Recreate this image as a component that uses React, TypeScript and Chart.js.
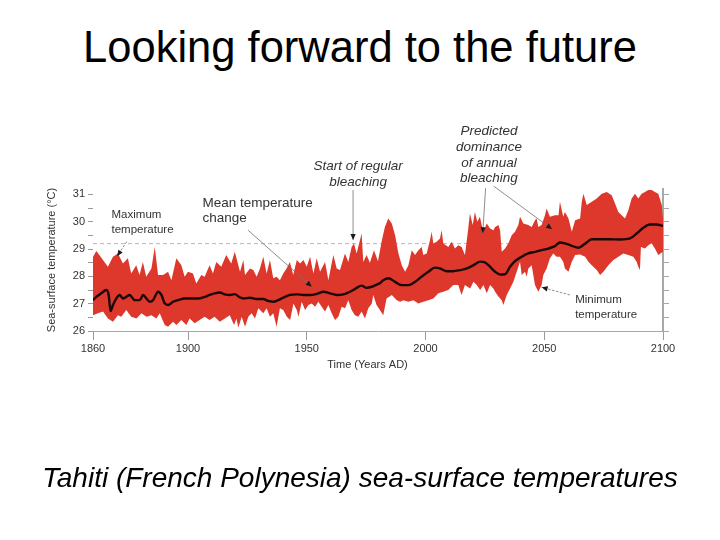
import React, { useEffect, useRef } from "react";
import { Chart, registerables } from "chart.js";

Chart.register(...registerables);

const FONT = '"Liberation Sans", Arial, Helvetica, sans-serif';

// ---------------- data ----------------
const maxYears = [
  1860.0, 1861.4, 1864.2, 1866.3, 1868.4, 1870.5, 1872.6, 1874.7, 1876.1, 1878.2,
  1879.6, 1881.0, 1882.4, 1884.6, 1886.0, 1887.4, 1889.5, 1891.6, 1893.0, 1895.1,
  1897.2, 1898.6, 1900.0, 1902.1, 1903.5, 1905.6, 1907.0, 1909.1, 1910.5, 1911.9,
  1914.0, 1916.1, 1918.2, 1919.7, 1921.9, 1923.3, 1924.0, 1926.1, 1927.5, 1928.9,
  1930.3, 1931.7, 1933.1, 1934.5, 1935.9, 1937.3, 1938.7, 1940.1, 1941.5, 1942.9,
  1944.3, 1945.8, 1947.2, 1948.6, 1950.0, 1951.4, 1952.8, 1954.2, 1955.6, 1957.7,
  1959.1, 1961.2, 1962.6, 1964.0, 1966.1, 1967.5, 1968.9, 1969.9, 1971.0, 1973.1,
  1973.8, 1975.2, 1976.6, 1978.3, 1980.0, 1981.5, 1982.9, 1984.3, 1985.8, 1987.2,
  1988.6, 1990.0, 1991.4, 1992.8, 1994.2, 1995.6, 1997.0, 1998.4, 1999.1, 2000.5,
  2001.9, 2002.6, 2003.3, 2004.7, 2006.1, 2006.8, 2007.5, 2009.6, 2011.0, 2012.4,
  2013.8, 2015.2, 2016.6, 2018.0, 2018.7, 2019.9, 2020.8, 2021.8, 2022.9, 2024.3,
  2025.8, 2027.2, 2028.6, 2029.3, 2030.7, 2031.4, 2032.1, 2033.5, 2034.9, 2036.3,
  2037.7, 2039.1, 2039.8, 2041.2, 2043.3, 2044.7, 2046.1, 2046.8, 2047.5, 2048.9,
  2050.3, 2051.0, 2052.4, 2054.5, 2056.0, 2056.6, 2058.0, 2058.7, 2060.2, 2061.6,
  2063.0, 2065.1, 2065.8, 2066.5, 2067.9, 2070.0, 2072.1, 2074.2, 2076.3, 2078.4,
  2079.8, 2081.2, 2082.6, 2084.0, 2085.4, 2086.8, 2088.2, 2089.6, 2091.0, 2092.4,
  2093.8, 2095.2, 2096.6, 2098.0, 2099.5, 2100.0,
];
const maxTemps = [
  28.72, 28.93, 28.60, 28.35, 28.72, 28.84, 28.47, 28.66, 28.11, 28.41,
  28.05, 28.53, 27.99, 28.29, 29.08, 28.05, 28.05, 28.17, 27.86, 28.66,
  28.41, 27.99, 28.17, 28.11, 27.74, 28.05, 27.99, 28.41, 28.11, 28.53,
  28.35, 28.78, 28.47, 28.90, 28.17, 28.60, 28.05, 28.29, 28.23, 27.99,
  28.29, 28.72, 28.11, 28.60, 27.93, 27.99, 27.86, 28.11, 28.29, 28.53,
  28.05, 28.60, 28.47, 28.60, 28.35, 28.72, 28.11, 28.66, 28.17, 28.53,
  27.86, 28.78, 28.29, 28.23, 28.84, 28.53, 29.08, 29.20, 28.84, 29.57,
  28.53, 28.78, 28.50, 28.96, 28.55, 29.27, 29.81, 30.12, 29.94, 29.51,
  28.84, 28.41, 28.17, 28.41, 28.96, 28.78, 28.96, 29.08, 28.78, 28.84,
  29.33, 29.63, 29.20, 29.27, 29.39, 29.69, 29.20, 29.08, 29.27, 29.02,
  29.14, 29.08, 28.78, 29.75, 30.30, 29.88, 30.36, 30.00, 30.18, 29.63,
  29.94, 29.75, 29.69, 29.81, 29.88, 29.69, 28.90, 29.02, 29.21, 29.51,
  29.63, 29.88, 30.18, 29.94, 29.88, 29.81, 30.06, 30.12, 29.81, 29.88,
  30.24, 30.49, 30.18, 30.24, 30.24, 30.73, 30.18, 30.36, 30.12, 29.63,
  30.06, 30.12, 30.73, 31.03, 30.61, 30.73, 30.85, 31.03, 31.09, 30.97,
  30.67, 30.36, 30.24, 30.12, 30.42, 30.85, 31.03, 30.85, 31.03, 31.09,
  31.16, 31.16, 31.09, 31.03, 30.61, 30.10,
];

const minYears = [
  1860.0, 1862.1, 1864.2, 1866.3, 1868.4, 1870.5, 1871.9, 1874.0, 1876.1, 1878.3,
  1880.4, 1882.5, 1884.6, 1886.7, 1888.1, 1890.2, 1891.6, 1893.7, 1895.1, 1897.2,
  1899.3, 1900.7, 1902.8, 1904.9, 1907.0, 1909.1, 1911.2, 1913.4, 1915.5, 1917.6,
  1919.4, 1920.4, 1921.2, 1922.6, 1924.0, 1925.4, 1926.8, 1928.2, 1929.6, 1931.7,
  1933.1, 1934.5, 1935.9, 1937.3, 1938.7, 1940.1, 1941.6, 1943.0, 1944.4, 1945.8,
  1946.5, 1947.9, 1949.3, 1950.7, 1952.1, 1953.5, 1954.9, 1956.3, 1957.7, 1959.1,
  1960.5, 1961.9, 1963.3, 1964.7, 1966.1, 1967.5, 1968.9, 1970.3, 1971.7, 1973.1,
  1974.5, 1975.9, 1977.4, 1978.0, 1979.4, 1980.8, 1982.2, 1983.6, 1985.8, 1987.9,
  1989.3, 1990.7, 1992.8, 1994.9, 1997.0, 1999.1, 2001.2, 2003.3, 2005.4, 2007.5,
  2009.6, 2011.7, 2013.8, 2015.2, 2016.6, 2018.8, 2020.2, 2021.6, 2023.0, 2024.4,
  2025.8, 2027.2, 2028.6, 2029.3, 2030.7, 2032.1, 2032.8, 2034.2, 2035.6, 2037.0,
  2038.4, 2039.8, 2040.5, 2041.9, 2042.6, 2043.3, 2044.7, 2046.1, 2047.5, 2048.9,
  2049.6, 2051.0, 2052.4, 2053.8, 2055.2, 2056.6, 2058.0, 2058.7, 2060.2, 2061.6,
  2063.0, 2065.1, 2067.2, 2068.6, 2070.0, 2072.1, 2073.5, 2074.9, 2077.0, 2079.1,
  2081.2, 2083.3, 2085.4, 2087.5, 2088.9, 2089.6, 2090.3, 2090.7, 2092.4, 2093.8,
  2095.2, 2096.6, 2098.0, 2100.0,
];
const minTemps = [
  26.58, 26.65, 26.71, 26.46, 26.34, 26.58, 26.52, 26.77, 26.52, 26.46,
  26.65, 26.52, 26.58, 26.46, 26.65, 26.22, 26.16, 26.34, 26.22, 26.40,
  26.22, 26.46, 26.28, 26.40, 26.52, 26.40, 26.52, 26.34, 26.46, 26.58,
  26.22, 26.46, 26.12, 26.52, 26.16, 26.52, 26.65, 26.46, 26.83, 26.65,
  26.83, 26.52, 26.65, 26.16, 26.83, 26.77, 26.52, 26.40, 27.01, 26.77,
  26.52, 27.07, 26.77, 26.95, 27.01, 26.89, 27.07, 26.89, 26.71, 26.95,
  26.65, 26.40, 26.52, 26.89, 26.83, 27.13, 26.77, 26.58, 26.52, 26.71,
  26.46, 26.83, 27.01, 27.32, 26.95, 26.77, 26.58, 27.19, 27.32, 27.13,
  27.07, 27.13, 27.07, 27.13, 27.01, 27.07, 27.13, 27.19, 27.38, 27.44,
  27.50, 27.68, 27.68, 27.32, 27.68, 27.56, 27.80, 27.68, 27.50, 27.68,
  27.38, 27.68, 27.56, 27.44, 27.26, 27.13, 26.95, 27.32, 27.56, 27.80,
  28.17, 28.54, 28.05, 28.17, 27.99, 28.29, 28.41, 27.68, 27.44, 27.68,
  28.05, 28.29, 28.66, 28.84, 28.72, 28.72, 28.54, 28.29, 28.17, 28.54,
  28.78, 28.80, 28.72, 28.54, 28.41, 28.23, 28.05, 28.17, 28.41, 28.60,
  28.72, 28.84, 28.78, 28.72, 28.54, 28.35, 28.23, 29.08, 29.02, 29.14,
  29.21, 29.02, 28.78, 28.90,
];

const meanYears = [
  1860.0, 1861.4, 1863.5, 1865.6, 1866.6, 1867.4, 1868.4, 1869.8, 1871.2, 1872.6,
  1874.0, 1875.4, 1877.6, 1879.7, 1881.1, 1882.5, 1883.9, 1885.3, 1887.4, 1888.8,
  1890.2, 1891.6, 1893.7, 1895.8, 1898.6, 1901.4, 1904.2, 1907.0, 1909.1, 1911.2,
  1913.4, 1915.5, 1917.6, 1919.7, 1921.5, 1923.3, 1926.1, 1928.9, 1931.7, 1933.8,
  1935.9, 1938.0, 1940.1, 1943.0, 1945.8, 1948.6, 1951.4, 1953.5, 1954.9, 1957.0,
  1959.8, 1962.6, 1965.4, 1967.5, 1969.6, 1971.0, 1973.1, 1975.2, 1977.4, 1979.5,
  1980.9, 1982.2, 1984.4, 1987.2, 1990.0, 1992.8, 1995.6, 1998.4, 2001.2, 2004.0,
  2006.1, 2008.9, 2011.7, 2014.5, 2017.4, 2020.2, 2023.0, 2025.1, 2027.2, 2029.3,
  2031.4, 2033.5, 2035.6, 2037.7, 2040.5, 2043.3, 2046.1, 2048.9, 2051.7, 2054.5,
  2056.6, 2058.7, 2061.6, 2064.4, 2067.2, 2070.0, 2073.5, 2077.7, 2081.9, 2086.1,
  2088.9, 2091.7, 2094.5, 2097.3, 2100.0,
];
const meanTemps = [
  27.13, 27.25, 27.38, 27.50, 27.32, 26.73, 26.95, 27.19, 27.32, 27.19,
  27.25, 27.32, 27.13, 27.13, 27.32, 27.19, 27.07, 27.13, 27.44, 27.32,
  27.01, 26.95, 27.07, 27.13, 27.19, 27.19, 27.19, 27.25, 27.32, 27.38,
  27.41, 27.34, 27.32, 27.35, 27.25, 27.19, 27.22, 27.17, 27.17, 27.10,
  27.07, 27.13, 27.22, 27.32, 27.34, 27.32, 27.32, 27.34, 27.38, 27.44,
  27.38, 27.32, 27.34, 27.41, 27.50, 27.58, 27.66, 27.58, 27.62, 27.70,
  27.76, 27.86, 27.93, 27.80, 27.68, 27.68, 27.80, 27.99, 28.17, 28.32,
  28.29, 28.19, 28.19, 28.23, 28.29, 28.41, 28.54, 28.51, 28.35, 28.17,
  28.07, 28.08, 28.35, 28.56, 28.72, 28.84, 28.90, 28.96, 29.02, 29.11,
  29.24, 29.21, 29.12, 29.05, 29.20, 29.36, 29.36, 29.36, 29.35, 29.39,
  29.57, 29.78, 29.90, 29.90, 29.85,
];

const xTickYears = [1860, 1900, 1950, 2000, 2050, 2100];
const yTickTemps = [26, 26.5, 27, 27.5, 28, 28.5, 29, 29.5, 30, 30.5, 31];
const bleachingThreshold = 29.2;

// ---------------- annotations (in data space) ----------------
const textNotes = [
  { lines: ["Maximum", "temperature"], x: 1867.8, y: 30.24, size: 11.5, italic: false, align: "left", lh: 14.5 },
  { lines: ["Mean temperature", "change"], x: 1906.1, y: 30.68, size: 13.5, italic: false, align: "left", lh: 15.5 },
  { lines: ["Start of regular", "bleaching"], x: 1971.6, y: 32.03, size: 13.5, italic: true, align: "center", lh: 16 },
  { lines: ["Predicted", "dominance", "of annual", "bleaching"], x: 2026.7, y: 33.31, size: 13.5, italic: true, align: "center", lh: 15.7 },
  { lines: ["Minimum", "temperature"], x: 2063.0, y: 27.13, size: 11.5, italic: false, align: "left", lh: 15 },
];
const arrowNotes = [
  { from: [1874.2, 29.27], to: [1870.2, 28.74], dashed: true },
  { from: [1925.3, 29.69], to: [1952.1, 27.62], dashed: false },
  { from: [1969.5, 31.16], to: [1969.5, 29.33], dashed: false },
  { from: [2025.3, 31.23], to: [2024.1, 29.58], dashed: false },
  { from: [2028.8, 31.30], to: [2053.3, 29.73], dashed: false },
  { from: [2060.8, 27.32], to: [2048.9, 27.60], dashed: true },
];
const xAxisTitle = "Time (Years AD)";
const yAxisTitle = "Sea-surface temperature (°C)";

const zip = (xs: number[], ys: number[]) => xs.map((x, i) => ({ x, y: ys[i] }));

const notesPlugin = {
  id: "notes",
  afterDraw(chart: any) {
    const { ctx, scales, chartArea } = chart;
    const xs = scales.x;
    const ys = scales.y;
    ctx.save();
    for (const a of arrowNotes) {
      const x1 = xs.getPixelForValue(a.from[0]);
      const y1 = ys.getPixelForValue(a.from[1]);
      const x2 = xs.getPixelForValue(a.to[0]);
      const y2 = ys.getPixelForValue(a.to[1]);
      ctx.strokeStyle = "#707070";
      ctx.lineWidth = 0.8;
      ctx.setLineDash(a.dashed ? [2.5, 1.5] : []);
      ctx.beginPath();
      ctx.moveTo(x1, y1);
      ctx.lineTo(x2, y2);
      ctx.stroke();
      ctx.setLineDash([]);
      const ang = Math.atan2(y2 - y1, x2 - x1);
      const L = 6;
      const W = 2.6;
      const bx = x2 - L * Math.cos(ang);
      const by = y2 - L * Math.sin(ang);
      ctx.fillStyle = "#1a1a1a";
      ctx.beginPath();
      ctx.moveTo(x2, y2);
      ctx.lineTo(bx + W * Math.sin(ang), by - W * Math.cos(ang));
      ctx.lineTo(bx - W * Math.sin(ang), by + W * Math.cos(ang));
      ctx.closePath();
      ctx.fill();
    }
    ctx.fillStyle = "#333";
    ctx.textBaseline = "middle";
    for (const t of textNotes) {
      ctx.font = `${t.italic ? "italic " : ""}${t.size}px ${FONT}`;
      ctx.textAlign = t.align as CanvasTextAlign;
      const px = xs.getPixelForValue(t.x);
      const py = ys.getPixelForValue(t.y);
      t.lines.forEach((line, i) => ctx.fillText(line, px, py + i * t.lh));
    }
    ctx.font = `11px ${FONT}`;
    ctx.textAlign = "center";
    ctx.fillText(xAxisTitle, (chartArea.left + chartArea.right) / 2 - 10.5, chartArea.bottom + 34);
    ctx.restore();
  },
};

export default function App() {
  const ref = useRef<HTMLCanvasElement>(null);

  useEffect(() => {
    if (!ref.current) return;
    Chart.defaults.font.family = FONT;
    const setTicks = (vals: number[]) => (scale: any) => {
      scale.ticks = vals.map((v) => ({ value: v }));
    };
    const chart = new Chart(ref.current, {
      type: "line",
      data: {
        datasets: [
          {
            label: "Maximum temperature",
            data: zip(maxYears, maxTemps),
            borderWidth: 0,
            borderColor: "rgba(0,0,0,0)",
            backgroundColor: "#de372b",
            pointRadius: 0,
            tension: 0,
            fill: "+1",
            order: 0,
          },
          {
            label: "Minimum temperature",
            data: zip(minYears, minTemps),
            borderWidth: 0,
            borderColor: "rgba(0,0,0,0)",
            backgroundColor: "#de372b",
            pointRadius: 0,
            tension: 0,
            fill: false,
            order: 1,
          },
          {
            label: "Mean temperature",
            data: zip(meanYears, meanTemps),
            borderWidth: 2.4,
            borderColor: "#1c0a08",
            pointRadius: 0,
            cubicInterpolationMode: "monotone",
            fill: false,
            order: -1,
          },
          {
            label: "Bleaching threshold",
            data: [
              { x: xTickYears[0], y: bleachingThreshold },
              { x: xTickYears[xTickYears.length - 1], y: bleachingThreshold },
            ],
            borderWidth: 1,
            borderColor: "#b8b8b8",
            borderDash: [4, 3],
            pointRadius: 0,
            fill: false,
            order: 2,
          },
        ],
      },
      options: {
        animation: false,
        responsive: false,
        maintainAspectRatio: false,
        devicePixelRatio: 1,
        events: [],
        layout: { padding: { left: 0, right: 0, top: 189, bottom: 159 } },
        plugins: { legend: { display: false }, tooltip: { enabled: false }, title: { display: false } },
        scales: {
          x: {
            type: "linear",
            min: 1860,
            max: 2100,
            afterBuildTicks: setTicks(xTickYears),
            afterFit: (s: any) => {
              s.height = 50;
            },
            grid: { drawOnChartArea: false, drawTicks: true, tickLength: 9, color: "#9a9a9a" },
            border: { display: true, color: "#a8a8a8", width: 1 },
            ticks: {
              padding: 2,
              color: "#333",
              font: { size: 11, family: FONT },
              maxRotation: 0,
              autoSkip: false,
              callback: (v: any) => String(v),
            },
          },
          y: {
            type: "linear",
            position: "left",
            min: 26,
            max: 31.2,
            afterBuildTicks: setTicks(yTickTemps),
            afterFit: (s: any) => {
              s.width = 93;
            },
            grid: { drawOnChartArea: false, drawTicks: true, tickLength: 5, color: "#9a9a9a" },
            border: { display: false },
            title: {
              display: true,
              text: yAxisTitle,
              color: "#333",
              font: { size: 11, family: FONT },
              padding: { top: 45, bottom: 0 },
            },
            ticks: {
              padding: 3,
              color: "#333",
              font: { size: 11, family: FONT },
              autoSkip: false,
              callback: (v: any) => (Number.isInteger(Number(v)) ? String(v) : ""),
            },
          },
          y2: {
            type: "linear",
            position: "right",
            min: 26,
            max: 31.2,
            afterBuildTicks: setTicks(yTickTemps),
            afterFit: (s: any) => {
              s.width = 57;
            },
            grid: { drawOnChartArea: false, drawTicks: true, tickLength: 6, color: "#a8a8a8" },
            border: { display: true, color: "#a8a8a8", width: 2 },
            ticks: { display: false },
          },
        },
      },
      plugins: [notesPlugin],
    } as any);
    return () => chart.destroy();
  }, []);

  return (
    <div
      style={{
        position: "absolute",
        left: 0,
        top: 0,
        width: 720,
        height: 540,
        background: "#fff",
        overflow: "hidden",
      }}
    >
      <div
        style={{
          position: "absolute",
          left: 0,
          top: 25,
          width: 720,
          textAlign: "center",
          fontFamily: FONT,
          fontSize: 43.5,
          lineHeight: "44px",
          color: "#000",
          whiteSpace: "nowrap",
        }}
      >
        Looking forward to the future
      </div>
      <canvas
        ref={ref}
        width={720}
        height={540}
        style={{ position: "absolute", left: 0, top: 0, width: 720, height: 540 }}
      />
      <div
        style={{
          position: "absolute",
          left: 0,
          top: 464,
          width: 720,
          textAlign: "center",
          fontFamily: FONT,
          fontSize: 28,
          fontStyle: "italic",
          lineHeight: "28px",
          color: "#000",
          whiteSpace: "nowrap",
        }}
      >
        Tahiti (French Polynesia) sea-surface temperatures
      </div>
    </div>
  );
}
